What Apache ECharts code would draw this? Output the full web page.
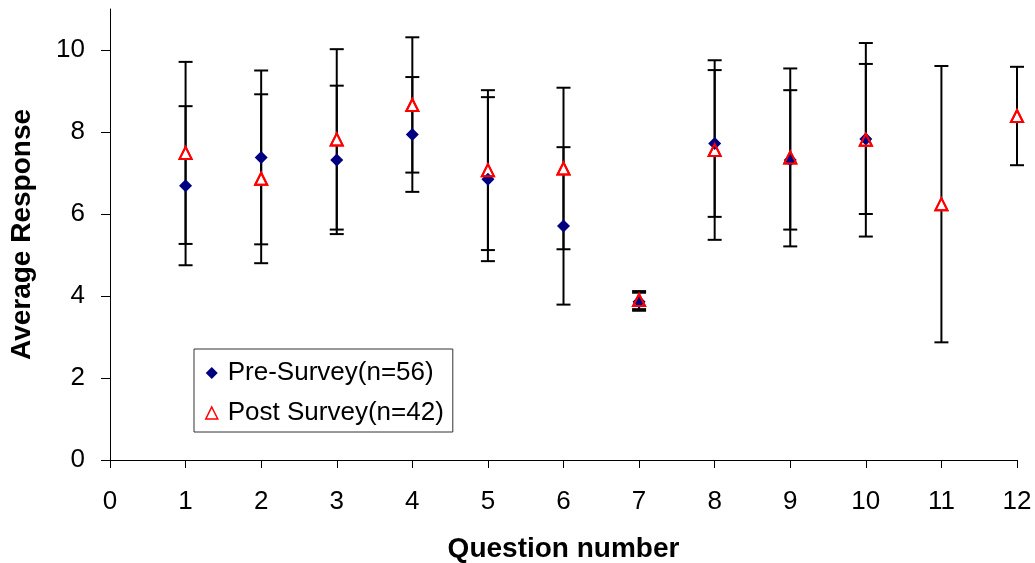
<!DOCTYPE html>
<html>
<head>
<meta charset="utf-8">
<script src="https://cdn.jsdelivr.net/npm/echarts@6/dist/echarts.min.js"></script>
<style>
  html, body { margin: 0; padding: 0; background: #fff; }
  #mychart { width: 1035px; height: 563px; }
</style>
</head>
<body>
<div id="mychart"></div>
<script>
// question numbers on the x axis
var questions = [1, 2, 3, 4, 5, 6, 7, 8, 9, 10, 11, 12];
// pre survey (questions 1..10)
var preMean = [6.69, 7.38, 7.32, 7.94, 6.85, 5.71, 3.86, 7.72, 7.32, 7.83];
var preErr  = [1.94, 2.12, 1.81, 1.40, 2.00, 1.92, 0.22, 1.79, 1.70, 1.83];
// post survey (questions 1..12)
var postMean = [7.49, 6.86, 7.82, 8.66, 7.07, 7.11, 3.90, 7.56, 7.38, 7.81, 6.24, 8.39];
var postErr  = [2.22, 2.06, 2.20, 1.65, 1.95, 1.97, 0.22, 2.19, 2.17, 2.36, 3.37, 1.20];
var yTicks = [0, 2, 4, 6, 8, 10];

var FONT = "'Liberation Sans', Arial, sans-serif";

function pts(mean) {
  return mean.map(function (v, i) { return [questions[i], v]; });
}
function bars(mean, err) {
  return mean.map(function (v, i) { return [questions[i], v - err[i], v + err[i]]; });
}

// vertical whisker with caps
function renderBar(params, api) {
  var top = api.coord([api.value(0), api.value(2)]);
  var bot = api.coord([api.value(0), api.value(1)]);
  var hw = 7;
  var st = { stroke: '#000', lineWidth: 2 };
  return {
    type: 'group',
    children: [
      { type: 'line', shape: { x1: top[0], y1: top[1], x2: bot[0], y2: bot[1] }, style: st },
      { type: 'line', shape: { x1: top[0] - hw, y1: top[1], x2: top[0] + hw, y2: top[1] }, style: st },
      { type: 'line', shape: { x1: bot[0] - hw, y1: bot[1], x2: bot[0] + hw, y2: bot[1] }, style: st }
    ]
  };
}

var myChart = echarts.init(document.getElementById('mychart'));
var option = {
  animation: false,
  textStyle: { fontFamily: FONT },
  grid: { left: 110, right: 18, top: 9, bottom: 103, outerBoundsMode: 'none' },
  legend: {
    orient: 'vertical',
    left: 194,
    top: 349,
    padding: [11, 9, 6, 11],
    itemGap: 14,
    itemWidth: 12,
    itemHeight: 12,
    borderColor: '#333',
    borderWidth: 1,
    backgroundColor: '#fff',
    textStyle: { fontFamily: FONT, fontSize: 26, color: '#000', lineHeight: 26, padding: [0, 0, 0, 5] },
    data: [
      { name: 'Pre-Survey(n=56)', icon: 'diamond', itemStyle: { color: '#000080' } },
      { name: 'Post Survey(n=42)', icon: 'triangle',
        itemStyle: { color: '#fff', borderColor: '#ff0000', borderWidth: 1.5 } }
    ]
  },
  xAxis: {
    type: 'value',
    min: 0,
    max: 12,
    interval: 1,
    name: 'Question number',
    nameLocation: 'middle',
    nameGap: 75,
    nameTextStyle: { fontFamily: FONT, fontSize: 28, fontWeight: 'bold', color: '#000' },
    axisLine: { onZero: false, lineStyle: { color: '#000', width: 1 } },
    axisTick: { show: true, inside: false, length: 8, lineStyle: { color: '#000' } },
    axisLabel: { fontFamily: FONT, fontSize: 26, color: '#000', margin: 29 },
    splitLine: { show: false }
  },
  yAxis: {
    type: 'value',
    min: 0,
    max: 11,
    interval: 2,
    name: 'Average Response',
    nameLocation: 'middle',
    nameGap: 74,
    nameTextStyle: { fontFamily: FONT, fontSize: 28, fontWeight: 'bold', color: '#000' },
    axisLine: { show: true, lineStyle: { color: '#000', width: 1 } },
    axisTick: { show: true, length: 9, lineStyle: { color: '#000' }, customValues: yTicks },
    axisLabel: { fontFamily: FONT, fontSize: 26, color: '#000', margin: 25, customValues: yTicks },
    splitLine: { show: false }
  },
  series: [
    {
      type: 'custom',
      name: 'preErr',
      renderItem: renderBar,
      data: bars(preMean, preErr),
      z: 1,
      silent: true
    },
    {
      type: 'custom',
      name: 'postErr',
      renderItem: renderBar,
      data: bars(postMean, postErr),
      z: 1,
      silent: true
    },
    {
      // white body of the post triangles, sits under the diamonds
      name: 'Post Survey(n=42)',
      type: 'scatter',
      symbol: 'triangle',
      symbolSize: 12,
      itemStyle: { color: '#fff', borderColor: '#ff0000', borderWidth: 2, opacity: 1 },
      data: pts(postMean),
      z: 2
    },
    {
      name: 'Pre-Survey(n=56)',
      type: 'scatter',
      symbol: 'diamond',
      symbolSize: 13,
      itemStyle: { color: '#000080', opacity: 1 },
      data: pts(preMean),
      z: 3
    },
    {
      // red outline of the post triangles on top
      name: 'postOutline',
      type: 'scatter',
      symbol: 'triangle',
      symbolSize: 12,
      silent: true,
      itemStyle: { color: 'transparent', borderColor: '#ff0000', borderWidth: 2, opacity: 1 },
      data: pts(postMean),
      z: 4
    }
  ]
};
myChart.setOption(option);
window.addEventListener('resize', function () {
  myChart.resize();
});
</script>
</body>
</html>
